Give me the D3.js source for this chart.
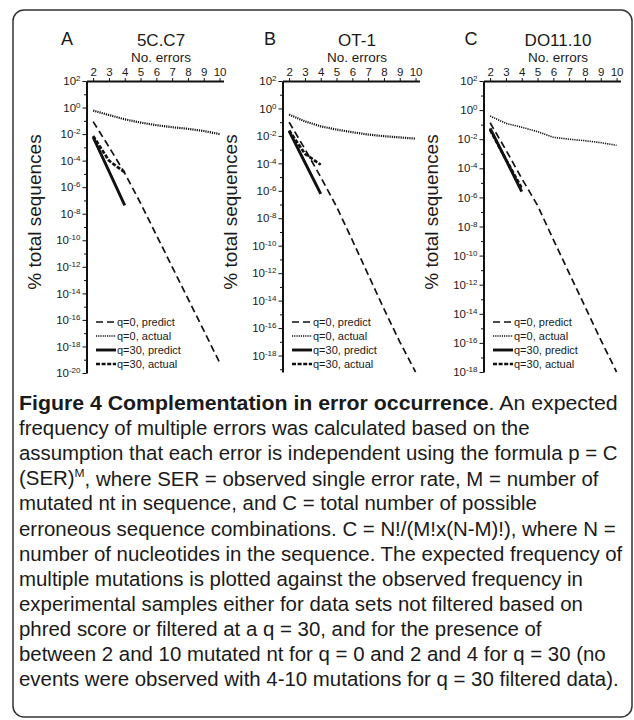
<!DOCTYPE html>
<html>
<head>
<meta charset="utf-8">
<script src="https://cdn.jsdelivr.net/npm/d3@7"></script>
<style>
  body { margin: 0; background: #fff; }
  svg text { font-family: "Liberation Sans", Arial, sans-serif; fill: #1a1a1a; }
</style>
</head>
<body>
<div id="chart"></div>
<script>
// --- data ---
const panelLetters = ["A", "B", "C"];
const panelTitles = ["5C.C7", "OT-1", "DO11.10"];
const noErrors = [2, 3, 4, 5, 6, 7, 8, 9, 10];
const noErrorsQ30 = [2, 3, 4];
const yBottomExp = [-20, -19.2, -18];          // lowest decade shown on each y axis
const seriesNames = ["q=0, predict", "q=0, actual", "q=30, predict", "q=30, actual"];

// % total sequences, one row per panel (A, B, C)
const q0Predict = [
  [8.7e-2, 1.1e-3, 1.15e-5, 6.3e-8, 2.5e-10, 1.0e-12, 4.0e-15, 1.6e-17, 6.3e-20],
  [1.0e-1, 1.1e-3, 1.0e-5, 7.1e-8, 2.5e-10, 7.9e-13, 2.5e-15, 1.0e-17, 6.3e-20],
  [1.35e-1, 1.8e-3, 2.0e-5, 2.8e-7, 1.26e-9, 6.3e-12, 3.2e-14, 1.6e-16, 1.0e-18]
];
const q0Actual = [
  [0.59, 0.275, 0.13, 0.074, 0.047, 0.033, 0.025, 0.017, 0.010],
  [0.355, 0.115, 0.05, 0.029, 0.0186, 0.0126, 0.0095, 0.0078, 0.0063],
  [0.39, 0.123, 0.066, 0.033, 0.0135, 0.010, 0.0079, 0.0058, 0.0038]
];
const q30Predict = [
  [5.9e-3, 1.6e-5, 4.3e-8],
  [2.2e-2, 1.15e-4, 6.0e-7],
  [5.6e-2, 3.8e-4, 2.5e-6]
];
const q30Actual = [
  [7.2e-3, 1.0e-4, 1.3e-5],
  [2.5e-2, 5.0e-4, 7.9e-5],
  [4.3e-2, 4.0e-4, 4.3e-6]
];

const captionLines = [
  "**Figure 4 Complementation in error occurrence**. An expected",
  "frequency of multiple errors was calculated based on the",
  "assumption that each error is independent using the formula p = C",
  "(SER)^M, where SER = observed single error rate, M = number of",
  "mutated nt in sequence, and C = total number of possible",
  "erroneous sequence combinations. C = N!/(M!x(N-M)!), where N =",
  "number of nucleotides in the sequence. The expected frequency of",
  "multiple mutations is plotted against the observed frequency in",
  "experimental samples either for data sets not filtered based on",
  "phred score or filtered at a q = 30, and for the presence of",
  "between 2 and 10 mutated nt for q = 0 and 2 and 4 for q = 30 (no",
  "events were observed with 4-10 mutations for q = 30 filtered data)."
];

// --- drawing ---
const width = 634, height = 720;
const svg = d3.select("#chart").append("svg")
  .attr("width", width)
  .attr("height", height);

svg.append("rect")
  .attr("x", 13).attr("y", 10)
  .attr("width", 619).attr("height", 707)
  .attr("rx", 11)
  .attr("fill", "none")
  .attr("stroke", "#333")
  .attr("stroke-width", 1.5);

const plotLeft = [86.5, 282.5, 483.5];
const plotWidth = 137;
const plotTop = 81;
const plotBottom = [373, 372, 372];
const letterX = [67, 270, 471];
const dottedWidth = [2.2, 2.2, 1.6];

// styles for the four series
const styles = [
  { dash: "7,4", width: 1.7 },
  { dash: "1.2,1", width: 2 },
  { dash: null, width: 2.9 },
  { dash: "4,1.6", width: 2.7 }
];

panelLetters.forEach((letter, i) => {
  const g = svg.append("g");
  const x = d3.scaleLinear()
    .domain([1.58, 10.25])
    .range([plotLeft[i], plotLeft[i] + plotWidth]);
  const y = d3.scaleLog()
    .domain([Math.pow(10, yBottomExp[i]), 100])
    .range([plotBottom[i], plotTop]);
  const cx = plotLeft[i] + plotWidth / 2 + 6;

  // titles
  g.append("text").attr("x", letterX[i]).attr("y", 45)
    .attr("text-anchor", "middle").attr("font-size", 18).text(letter);
  g.append("text").attr("x", cx).attr("y", 46)
    .attr("text-anchor", "middle").attr("font-size", 17).text(panelTitles[i]);
  g.append("text").attr("x", cx).attr("y", 62)
    .attr("text-anchor", "middle").attr("font-size", 13.5).text("No. errors");

  // top x axis
  const xAxis = g.append("g")
    .attr("transform", `translate(0,${plotTop})`)
    .call(d3.axisTop(x).tickValues(noErrors).tickSize(3).tickSizeOuter(0).tickPadding(2));
  xAxis.selectAll("text").attr("font-size", 11.5).attr("font-family", null);

  // left y axis, majors every two decades
  const majorExp = d3.range(2, yBottomExp[i] - 0.001, -2);
  const minorExp = d3.range(1, yBottomExp[i] - 0.001, -2);
  const yAxis = g.append("g")
    .attr("transform", `translate(${plotLeft[i]},0)`)
    .call(d3.axisLeft(y).tickValues(majorExp.map(e => Math.pow(10, e)))
      .tickSize(4).tickSizeOuter(0).tickPadding(2));
  yAxis.selectAll(".tick text")
    .attr("font-size", 11.5).attr("font-family", null)
    .text(null)
    .each(function(d) {
      const t = d3.select(this);
      const e = Math.round(Math.log10(d));
      t.append("tspan").text("10");
      t.append("tspan").attr("font-size", 8).attr("dy", "-0.5em").text(e);
    });
  g.append("g")
    .attr("transform", `translate(${plotLeft[i]},0)`)
    .call(d3.axisLeft(y).tickValues(minorExp.map(e => Math.pow(10, e)))
      .tickSize(2.5).tickFormat(""))
    .call(a => a.select(".domain").remove());

  g.selectAll(".domain").attr("stroke", "#111").attr("stroke-width", 2);
  g.selectAll(".tick line").attr("stroke", "#111").attr("stroke-width", 1);

  g.append("text")
    .attr("transform", `translate(${plotLeft[i] - 46},212) rotate(-90)`)
    .attr("text-anchor", "middle")
    .attr("font-size", 19)
    .text("% total sequences");

  // series
  const series = [
    { xs: noErrors, ys: q0Predict[i] },
    { xs: noErrors, ys: q0Actual[i] },
    { xs: noErrorsQ30, ys: q30Predict[i] },
    { xs: noErrorsQ30, ys: q30Actual[i] }
  ];
  series.forEach((s, k) => {
    const line = d3.line()
      .x((d, j) => x(s.xs[j]))
      .y(d => y(d));
    g.append("path")
      .attr("d", line(s.ys))
      .attr("fill", "none")
      .attr("stroke", "#111")
      .attr("stroke-width", k === 1 ? dottedWidth[i] : styles[k].width)
      .attr("stroke-dasharray", styles[k].dash);
  });

  // legend
  const rows = [322, 336, 350, 364];
  seriesNames.forEach((name, k) => {
    g.append("line")
      .attr("x1", plotLeft[i] + 9.5).attr("x2", plotLeft[i] + 29.5)
      .attr("y1", rows[k]).attr("y2", rows[k])
      .attr("stroke", "#111")
      .attr("stroke-width", k === 1 ? 1.3 : styles[k].width)
      .attr("stroke-dasharray", styles[k].dash);
    g.append("text")
      .attr("x", plotLeft[i] + 30.5).attr("y", rows[k])
      .attr("dy", "0.35em")
      .attr("font-size", 11)
      .text(name);
  });
});

// --- caption ---
const capLeft = 19, capRight = 618, capTop = 410, capStep = 25.1;
const cap = svg.append("g").attr("font-size", 19.5);
const capTexts = captionLines.map((line, i) => {
  const t = cap.append("text").attr("y", 0);
  let m;
  if ((m = line.match(/^\*\*(.*)\*\*(.*)$/))) {
    t.append("tspan").attr("font-weight", "bold").text(m[1]);
    t.append("tspan").text(m[2]);
  } else if ((m = line.match(/^(.*)\^M(.*)$/))) {
    t.append("tspan").text(m[1]);
    t.append("tspan").attr("font-size", 11.5).attr("dy", "-0.7em").text("M");
    t.append("tspan").attr("dy", "0.45em").text(m[2]);
  } else {
    t.text(line);
  }
  return t;
});
// squeeze the regular lines by the factor that makes line 3 span the box,
// the bold first line gets its own factor
const kBody = (capRight - capLeft) / capTexts[2].node().getComputedTextLength();
const kHead = (capRight - capLeft) / capTexts[0].node().getComputedTextLength();
capTexts.forEach((t, i) => {
  const k = i === 0 ? kHead : kBody;
  t.attr("transform", `translate(${capLeft},${capTop + i * capStep}) scale(${k},1)`);
});
</script>
</body>
</html>
